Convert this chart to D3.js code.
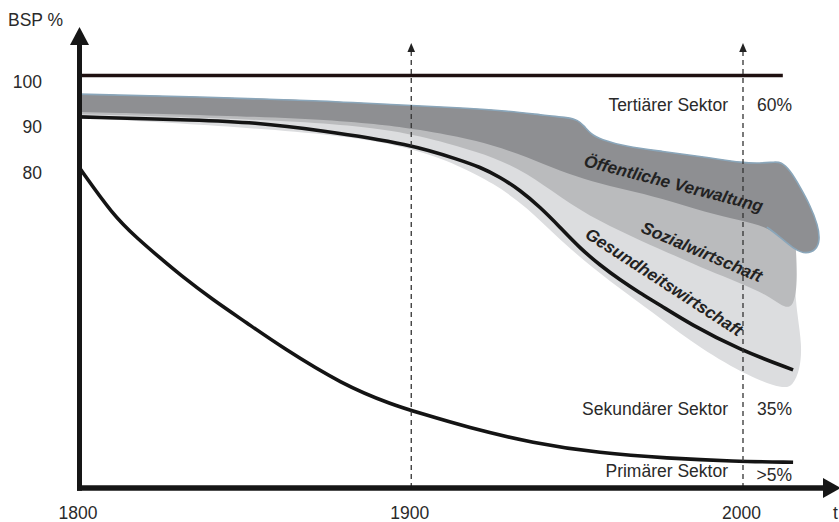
<!DOCTYPE html>
<html><head><meta charset="utf-8">
<script src="https://cdn.jsdelivr.net/npm/d3@7"></script>
<style>
body{margin:0;background:#fff}
svg{display:block}
text{font-family:"Liberation Sans",Arial,Helvetica,sans-serif}
</style></head>
<body><svg id="c" width="839" height="522"></svg>
<script>
// ---------- data (year, BSP %) ----------
const xTicks = [1800, 1900, 2000];
const yTicks = [100, 90, 80];
const markerYears = [1900, 2000];

const topEdge = [[1800,95.9],[1836.3,95.3],[1872.5,94.5],[1896.6,93.5],[1914.7,92.9],[1926.7,92.4],[1941.8,91.1],[1947,90.8],[1950.3,90.2],[1952.1,88.9],[1954.2,87.1],[1956.9,86.0],[1965,84.3],[1975,83.4],[1990,81.9],[2000,80.8],[2005.1,80.7],[2009.6,81.0],[2011.4,81.0]];
const darkRight = [[2014.2,79.2],[2017.2,75.5],[2020.2,71.5],[2022.6,67.1],[2023.2,63.8],[2022,61.6],[2019,60.8],[2015.8,61.6]];
const darkBottom = [[2011.2,64.5],[2007.2,66.7],[1999,68.2],[1989.1,69.8],[1975,73.1],[1965,74.8],[1954.8,76.6],[1944.8,79.0],[1934.9,82.1],[1924.6,84.7],[1914.7,86.5],[1899.9,88.5],[1872.5,90.7],[1800,92.0]];
const mediumRight = [[2015,72],[2016.2,60],[2016.3,53],[2014.8,48.5]];
const mediumBottom = [[2011.2,49.6],[2007.2,51.8],[1999,54.4],[1989.1,57.3],[1981,59.9],[1968.9,63.8],[1956.9,67.8],[1944.8,73.3],[1934.9,78.6],[1924.6,82.1],[1914.7,84.3],[1899.9,87.4],[1872.5,90.0],[1800,91.5]];
const lightRight = [[2014,72],[2015.5,55],[2016.3,47.4],[2017.8,40.8],[2017.2,35.3],[2015,31.8]];
const lightBottom = [[2012.1,31.1],[2002.1,33.7],[1987,40.1],[1975,46.7],[1965,52.0],[1954.8,57.7],[1944.8,63.8],[1934.9,71.1],[1924.6,76.4],[1914.7,80.1],[1899.9,84.3],[1872.5,87.7],[1800,90.7]];

const secondary = [[1800,90.9],[1836.3,90.2],[1852.3,89.7],[1872.5,88.0],[1899.9,84.9],[1914.7,81.4],[1920.7,79.9],[1926.7,77.7],[1932.8,74.8],[1938.8,71.1],[1944.8,66.7],[1950.8,62.1],[1956.9,58.3],[1962.9,55.1],[1968.9,52.2],[1974.9,49.6],[1984,45.4],[1999,39.7],[2015.1,35.3]];
const primary = [[1800,79.7],[1810.1,69.3],[1817.3,64.3],[1824.3,59.9],[1830.3,56.2],[1840.2,50.7],[1850.5,45.6],[1860.5,40.5],[1879.4,32.0],[1894.5,27.6],[1902.6,25.8],[1916.8,22.7],[1936.7,19.2],[1956.9,17.0],[1977.1,15.9],[1997,15.2],[2015.1,15.0]];
const fullLine = [[1800,100],[2012,100]];

const sectorLabels = ["Tertiärer Sektor", "Sekundärer Sektor", "Primärer Sektor"];
const sectorShares = ["60%", "35%", ">5%"];
const branchLabels = ["Öffentliche Verwaltung", "Sozialwirtschaft", "Gesundheitswirtschaft"];

// ---------- layout ----------
const svg = d3.select("#c");
const x = d3.scaleLinear().domain([1800, 2000]).range([79.5, 743]);
const y = d3.scaleLinear().domain([80, 100]).range([166.5, 75.5]);
const axisY = 488, axisTop = 27, axisRight = 841;

const outline = d3.line().x(d => x(d[0])).y(d => y(d[1])).curve(d3.curveBasis);
const smooth = d3.line().x(d => x(d[0])).y(d => y(d[1])).curve(d3.curveBasis);
const shape = (...parts) => outline(parts.flat()) + "Z";

// shaded bands
svg.append("path").attr("d", shape(topEdge, lightRight, lightBottom)).attr("fill", "#dcdddf");
svg.append("path").attr("d", shape(topEdge, mediumRight, mediumBottom)).attr("fill", "#babbbd");
svg.append("path").attr("d", shape(topEdge, darkRight, darkBottom)).attr("fill", "#8e8f92");
svg.append("path").attr("d", outline(topEdge.concat(darkRight, darkBottom.slice(0, 2))))
  .attr("fill", "none").attr("stroke", "#8aa6ba").attr("stroke-width", 1.6);

// 100 % line
svg.append("path").attr("d", smooth(fullLine)).attr("fill", "none").attr("stroke", "#1e1010").attr("stroke-width", 3.5);

// sector boundaries
svg.append("path").attr("d", smooth(secondary)).attr("fill", "none").attr("stroke", "#141414").attr("stroke-width", 3.6);
svg.append("path").attr("d", smooth(primary)).attr("fill", "none").attr("stroke", "#141414").attr("stroke-width", 3.6);

// dashed markers with small arrows
markerYears.forEach(t => {
  const px = x(t);
  svg.append("line").attr("x1", px).attr("x2", px).attr("y1", axisY).attr("y2", 50)
    .attr("stroke", "#333").attr("stroke-width", 1.3).attr("stroke-dasharray", "5,4");
  svg.append("path").attr("d", `M${px},43L${px-3.8},52L${px+3.8},52Z`).attr("fill", "#222");
});

// axes
svg.append("line").attr("x1", x(1800)).attr("x2", x(1800)).attr("y1", axisY + 2.7).attr("y2", axisTop + 14)
  .attr("stroke", "#161616").attr("stroke-width", 5);
svg.append("path").attr("d", `M${x(1800)},${axisTop}L${x(1800)-9.5},${axisTop+18}L${x(1800)+9.5},${axisTop+18}Z`).attr("fill", "#161616");
svg.append("line").attr("x1", x(1800) - 2.5).attr("x2", axisRight - 14).attr("y1", axisY).attr("y2", axisY)
  .attr("stroke", "#161616").attr("stroke-width", 5.5);
svg.append("path").attr("d", `M${axisRight},${axisY}L${axisRight-18},${axisY-10}L${axisRight-18},${axisY+10}Z`).attr("fill", "#161616");

// tick labels
const fs = 17.5;
svg.selectAll(".xt").data(xTicks).enter().append("text")
  .attr("x", d => x(d) - 1.5).attr("y", 519).attr("text-anchor", "middle")
  .attr("font-size", fs).attr("fill", "#2a2a2a").text(d => d);
svg.append("text").attr("x", 833).attr("y", 519).attr("font-size", fs).attr("fill", "#2a2a2a").text("t");
svg.selectAll(".yt").data(yTicks).enter().append("text")
  .attr("x", 42).attr("y", d => y(d) + 12).attr("text-anchor", "end")
  .attr("font-size", fs).attr("fill", "#2a2a2a").text(d => d);
svg.append("text").attr("x", 8).attr("y", 26).attr("font-size", fs).attr("fill", "#2a2a2a").text("BSP %");

// sector labels
const sectorY = [111, 415, 477];
const shareY = [111, 415, 481];
sectorLabels.forEach((s, i) => {
  svg.append("text").attr("x", 728).attr("y", sectorY[i]).attr("text-anchor", "end")
    .attr("font-size", fs).attr("fill", "#2a2a2a").text(s);
  svg.append("text").attr("x", 792).attr("y", shareY[i]).attr("text-anchor", "end")
    .attr("font-size", fs).attr("fill", "#2a2a2a").text(sectorShares[i]);
});

// branch labels (rotated, bold italic)
const branchPos = [[583, 166, 14.5], [640, 232, 23], [584, 237, 33]];
branchLabels.forEach((s, i) => {
  const [bx, by, a] = branchPos[i];
  svg.append("text").attr("transform", `translate(${bx},${by}) rotate(${a})`)
    .attr("font-size", 17).attr("font-weight", "bold").attr("font-style", "italic")
    .attr("fill", "#222").text(s);
});
</script></body></html>
